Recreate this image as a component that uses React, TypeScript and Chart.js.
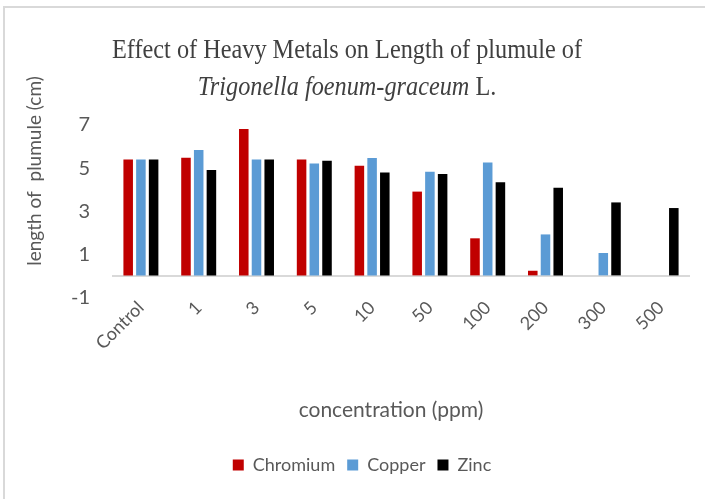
import React, { useEffect, useRef } from "react";
import { Chart, registerables } from "chart.js";

Chart.register(...registerables);

const categories = ["Control", "1", "3", "5", "10", "50", "100", "200", "300", "500"];
const chromium = [5.4, 5.48, 6.82, 5.4, 5.11, 3.92, 1.76, 0.26, 0, 0];
const copper = [5.4, 5.84, 5.4, 5.22, 5.47, 4.84, 5.27, 1.94, 1.08, 0];
const zinc = [5.4, 4.92, 5.4, 5.35, 4.8, 4.73, 4.35, 4.1, 3.42, 3.16];
const yMin = -1;
const yMax = 7;
const yLabelStep = 2;

const titleLine1 = "Effect of Heavy Metals on Length of plumule of";
const titleItalic = "Trigonella foenum-graceum";
const titleSuffix = " L.";
const xTitle = "concentration (ppm)";
const yTitle = "length of  plumule (cm)";

const GREY = "#595959";
const SANS = "Lato, 'Open Sans', sans-serif";

const framePlugin = {
  id: "frame",
  beforeDraw(chart: any) {
    const ctx = chart.ctx;
    ctx.save();
    ctx.fillStyle = "#ffffff";
    ctx.fillRect(0, 0, chart.width, chart.height);
    ctx.strokeStyle = "#d9d9d9";
    ctx.lineWidth = 2;
    ctx.beginPath();
    ctx.moveTo(4, chart.height);
    ctx.lineTo(4, 7);
    ctx.lineTo(chart.width, 7);
    ctx.stroke();
    ctx.restore();
  },
};

const titlePlugin = {
  id: "textBlocks",
  afterDraw(chart: any) {
    const ctx = chart.ctx;
    const cx = 347;
    ctx.save();
    ctx.fillStyle = "#404040";
    ctx.textBaseline = "middle";
    ctx.textAlign = "left";
    const normal = "28px 'Liberation Serif', 'DejaVu Serif', serif";
    const italic = "italic 28px 'Liberation Serif', 'DejaVu Serif', serif";
    ctx.font = normal;
    const w1 = ctx.measureText(titleLine1).width;
    const sx = 470 / w1;
    ctx.save();
    ctx.translate(cx - 235, 51);
    ctx.scale(sx, 1);
    ctx.fillText(titleLine1, 0, 0);
    ctx.restore();
    ctx.font = italic;
    const wi = ctx.measureText(titleItalic).width;
    ctx.font = normal;
    const ws = ctx.measureText(titleSuffix).width;
    const total = (wi + ws) * sx;
    ctx.save();
    ctx.translate(cx - total / 2, 88);
    ctx.scale(sx, 1);
    ctx.font = italic;
    ctx.fillText(titleItalic, 0, 0);
    ctx.font = normal;
    ctx.fillText(titleSuffix, wi, 0);
    ctx.restore();

    // y-axis title
    ctx.save();
    ctx.translate(35, 171);
    ctx.rotate(-Math.PI / 2);
    ctx.textAlign = "center";
    ctx.fillStyle = GREY;
    ctx.font = "19px " + SANS;
    ctx.fillText(yTitle, 0, 0);
    ctx.restore();

    // x-axis title
    ctx.save();
    ctx.textAlign = "center";
    ctx.fillStyle = GREY;
    ctx.font = "21px " + SANS;
    ctx.fillText(xTitle, 391, 410);
    ctx.restore();
    ctx.restore();
  },
};

export default function App() {
  const ref = useRef<HTMLCanvasElement | null>(null);

  useEffect(() => {
    if (!ref.current) return;
    const chart = new Chart(ref.current, {
      type: "bar",
      data: {
        labels: categories,
        datasets: [
          { label: "Chromium", data: chromium, backgroundColor: "#C00000" },
          { label: "Copper", data: copper, backgroundColor: "#5B9BD5" },
          { label: "Zinc", data: zinc, backgroundColor: "#000000" },
        ],
      },
      options: {
        animation: false,
        responsive: false,
        devicePixelRatio: 1,
        layout: { padding: { top: 125, left: 34, right: 15, bottom: 15 } },
        datasets: {
          bar: { categoryPercentage: 0.66, barPercentage: 0.75 },
        } as any,
        plugins: {
          title: { display: false },
          tooltip: { enabled: false },
          legend: {
            position: "bottom",
            labels: {
              boxWidth: 11,
              boxHeight: 11,
              padding: 12,
              color: GREY,
              font: { size: 18, family: SANS },
            },
          },
        },
        scales: {
          x: {
            grid: { display: false },
            border: { display: false },
            ticks: {
              color: GREY,
              font: { size: 18, family: SANS },
              minRotation: 45,
              maxRotation: 45,
              padding: -9,
            },
            title: { display: false },
            afterFit: (s: any) => {
              s.height = 146;
            },
          },
          y: {
            min: yMin,
            max: yMax,
            border: { display: false },
            grid: {
              drawTicks: false,
              lineWidth: 2,
              color: (c: any) => (c.tick && c.tick.value === 0 ? "#d9d9d9" : "rgba(0,0,0,0)"),
            },
            ticks: {
              stepSize: 1,
              autoSkip: false,
              color: GREY,
              padding: 22,
              font: { size: 20, family: SANS },
              callback: (v: any) => (((Number(v) - yMin) % yLabelStep === 0) ? String(v) : ""),
            },
            title: { display: false },
            afterFit: (s: any) => {
              s.width = 78;
            },
          },
        },
      },
      plugins: [framePlugin, titlePlugin],
    });
    return () => chart.destroy();
  }, []);

  return (
    <div style={{ position: "fixed", left: 0, top: 0, width: 705, height: 499, background: "#fff" }}>
      <canvas ref={ref} width={705} height={499} style={{ display: "block" }} />
    </div>
  );
}
